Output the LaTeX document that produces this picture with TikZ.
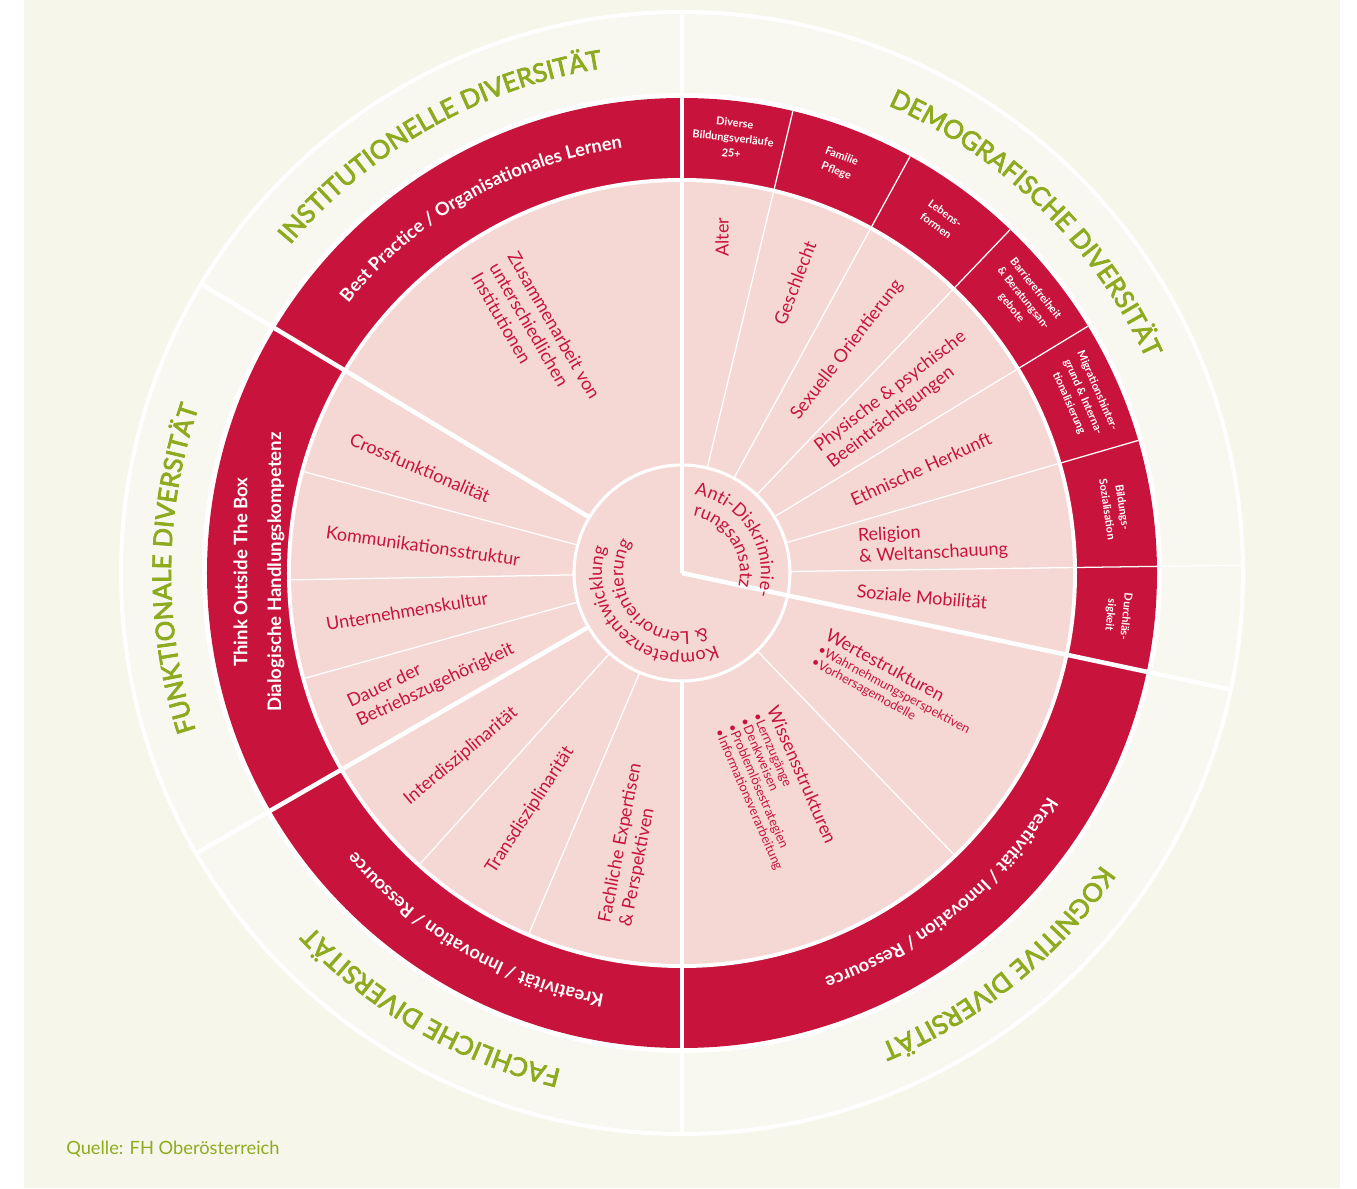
\documentclass[tikz,border=0pt]{standalone}
\usepackage{fontspec}
\setmainfont{Lato}
\newfontfamily\titlefamily{Lato}[FakeBold=3]
\usetikzlibrary{decorations.text}
\definecolor{WheelRed}{HTML}{C8143C}
\definecolor{WheelPink}{HTML}{F5D8D4}
\definecolor{WheelGreen}{HTML}{8EAA1E}
\definecolor{WheelPaper}{HTML}{F6F7EA}
\definecolor{WheelRim}{HTML}{F8F8F1}
\tikzset{
  wheel/gap/.style={draw=white, line width=3.2pt},
  wheel/split/.style={draw=white, line width=.9pt},
  wheel/label/.style={
    text=WheelRed, inner sep=0pt, align=center,
    font=\fontsize{12.8}{15}\selectfont
  },
  wheel/list/.style={wheel/label, align=left, font=\fontsize{9.2}{9.8}\selectfont},
  wheel/cell/.style={
    text=white, inner sep=0pt, align=center,
    font=\bfseries\fontsize{7.8}{11}\selectfont
  },
  wheel/band/.style={
    text=white, inner sep=0pt, align=center,
    font=\bfseries\fontsize{13.2}{16}\selectfont
  }
}
\newcommand{\ringfont}{\bfseries\fontsize{13}{15}\selectfont\color{white}}
\newcommand{\titlefont}{\titlefamily\fontsize{18.3}{20}\selectfont\color{WheelGreen}}
\newcommand{\hubfont}{\fontsize{12.8}{14}\selectfont\color{WheelRed}}
% align, radius, from, to, format, text
\newcommand{\wheelarc}[6]{%
  \path[decorate,decoration={text along path,text align=#1,
    text={|#5|#6}}] (#3:#2) arc[start angle=#3,end angle=#4,radius=#2];}

\begin{document}
\begin{tikzpicture}[x=.25mm,y=.25mm]
  \useasboundingbox (-682,-615) rectangle (675,573);
  \fill[white] (-682,-615) rectangle (675,573);
  \fill[WheelPaper] (-658,-615) rectangle (658,573);

  % rings
  \filldraw[fill=WheelRim,draw=white,line width=2.8pt] (0,0) circle (561);
  \fill[white] (0,0) circle (480);
  \fill[WheelRed] (0,0) circle (475);
  \fill[white] (0,0) circle (395);
  \fill[WheelPink] (0,0) circle (391);

  % separators
  \foreach \a in {90,-12} \draw[wheel/gap] (0,0) -- (\a:561);
  \foreach \a in {-90,149,210} \draw[wheel/gap] (\a:108) -- (\a:561);
  \foreach \a in {76.5,61.3,46.3,31.3,16.2} \draw[wheel/split] (\a:108) -- (\a:475);
  \draw[wheel/split] (0.8:108) -- (0.8:561);
  \foreach \a in {-46,-113,-132,165,181,195.6} \draw[wheel/split] (\a:108) -- (\a:391);
  \draw[white,line width=2.2pt] (0,0) circle (108);

  % outer titles
  \wheelarc{center}{511}{149}{90}{\titlefont}{INSTITUTIONELLE DIVERSITÄT}
  \wheelarc{center}{511}{90}{1}{\titlefont}{DEMOGRAFISCHE DIVERSITÄT}
  \wheelarc{center}{511}{-12}{-90}{\titlefont}{KOGNITIVE DIVERSITÄT}
  \wheelarc{center}{511}{-90}{-150}{\titlefont}{FACHLICHE DIVERSITÄT}
  \wheelarc{center}{511}{210}{149}{\titlefont}{FUNKTIONALE DIVERSITÄT}

  % red band
  \wheelarc{center}{429}{149}{90}{\ringfont}{Best Practice / Organisationales Lernen}
  \wheelarc{center}{429}{-12}{-90}{\ringfont}{Kreativität / Innovation / Ressource}
  \wheelarc{center}{429}{-90}{-150}{\ringfont}{Kreativität / Innovation / Ressource}
  \node[wheel/band,rotate=90] (toolbox) at (-423,1)
    {Think Outside The Box\\[8pt]Dialogische Handlungskompetenz};
  \foreach \ang/\txt [count=\i] in {
      83.3/{Diverse\\Bildungsverläufe\\25+},
      69/{Familie\\Pflege},
      53.8/{Lebens-\\formen},
      38.8/{Barrierefreiheit\\\& Beratungsan-\\gebote},
      23.7/{Migrationshinter-\\grund \& Interna-\\tionalisierung},
      8.5/{Bildungs-\\Sozialisation},
      -5.6/{Durchläs-\\sigkeit}}
    \node[wheel/cell,rotate=\ang-90] (cell\i) at (\ang:438) {\txt};

  % demografisch
  \node[wheel/label,rotate=90] (alter) at (40,336) {Alter};
  \node[wheel/label,rotate=69] (geschlecht) at (113,290) {Geschlecht};
  \node[wheel/label,rotate=52.5] (orientierung) at (165,223) {Sexuelle Orientierung};
  \node[wheel/label,rotate=37.5,align=left] (handicap) at (215,173)
    {Physische \& psychische\\Beeinträchtigungen};
  \node[wheel/label,rotate=24.5] (herkunft) at (239,104) {Ethnische Herkunft};
  \node[wheel/label,rotate=3,align=left] (religion) at (251,30)
    {Religion\\\& Weltanschauung};
  \node[wheel/label,rotate=-5] (mobilitaet) at (240,-24) {Soziale Mobilität};

  % kognitiv
  \node[wheel/list,rotate=-28.5] (werte) at (213,-115)
    {{\fontsize{12.8}{14}\selectfont Wertestrukturen}\\[1pt]
     \textbullet Wahrnehmungsperspektiven\\\textbullet Vorhersagemodelle};
  \node[wheel/list,rotate=-66.5] (wissen) at (94,-215)
    {{\fontsize{12.8}{14}\selectfont Wissensstrukturen}\\[1pt]
     \textbullet Lernzugänge\\\textbullet Denkweisen\\
     \textbullet Problemlösestrategien\\\textbullet Informationsverarbeitung};

  % fachlich
  \node[wheel/label,rotate=40] (inter) at (-221,-183) {Interdisziplinarität};
  \node[wheel/label,rotate=57] (trans) at (-152,-237) {Transdisziplinarität};
  \node[wheel/label,rotate=79,align=left] (expertise) at (-51,-272)
    {Fachliche Expertisen\\\& Perspektiven};

  % funktional
  \node[wheel/label,rotate=-23] (cross) at (-262,105) {Crossfunktionalität};
  \node[wheel/label,rotate=-8] (kommunikation) at (-259,27) {Kommunikationsstruktur};
  \node[wheel/label,rotate=9.5] (kultur) at (-275,-38) {Unternehmenskultur};
  \node[wheel/label,rotate=25.4,align=left] (dauer) at (-251,-103)
    {Dauer der\\Betriebszugehörigkeit};

  % institutionell
  \node[wheel/label,rotate=-60,align=left] (zusammenarbeit) at (-146,237)
    {Zusammenarbeit von\\unterschiedlichen\\Institutionen};

  % hub
  \wheelarc{left}{79}{81}{-40}{\hubfont}{Anti-Diskriminie-}
  \wheelarc{left}{58}{79}{-60}{\hubfont}{rungsansatz}
  \wheelarc{left}{80}{-65}{-240}{\hubfont}{Kompetenzentwicklung}
  \wheelarc{left}{59}{-66}{-240}{\hubfont}{{\&} Lernorientierung}

  \node[anchor=base west,inner sep=0pt,text=WheelGreen,
    font=\fontsize{13}{15}\selectfont] (quelle) at (-616,-581)
    {Quelle: FH Oberösterreich};
\end{tikzpicture}
\end{document}
